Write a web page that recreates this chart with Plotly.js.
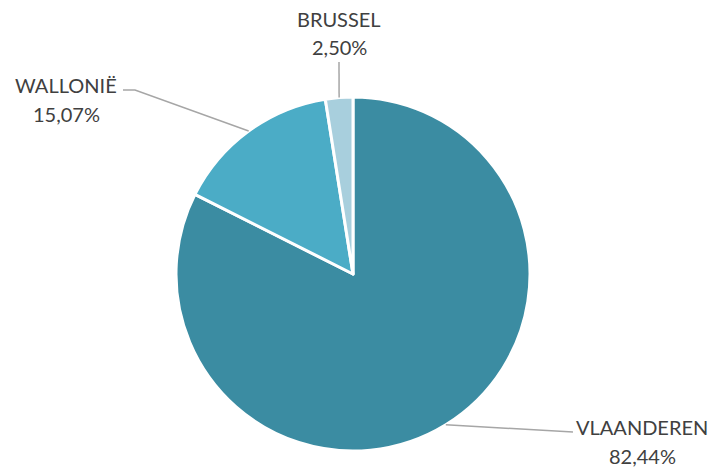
<!DOCTYPE html>
<html><head><meta charset="utf-8">
<script src="https://cdn.plot.ly/plotly-3.0.1.min.js"></script>
<style>html,body{margin:0;padding:0;background:#fff}</style>
</head><body>
<div id="chart" style="width:711px;height:468px"></div>
<script>
const regions = ["VLAANDEREN", "WALLONIË", "BRUSSEL"];
const shares = [82.44, 15.07, 2.50];
const sliceColors = ["#3B8CA2", "#4BACC6", "#A8CFDD"];

const W = 711, H = 468;
const cx = 353, cy = 274, R = 177;
// label placement (pixels): [x center, y line1, y line2], elbow/end points for leader lines
const labelPos = [
  {x: 642, y1: 427, y2: 456, end: [[573, 432]]},
  {x: 66, y1: 85, y2: 114, end: [[135, 90], [123, 90]]},
  {x: 339, y1: 19, y2: 47, end: [[339, 62]]}
];
const px = x => x / W, py = y => 1 - y / H;

const total = shares.reduce((a, b) => a + b, 0);
let cum = 0;
const annotations = [], shapes = [];
const font = {family: "Lato, 'Open Sans', sans-serif", size: 20, color: "#404040"};
shares.forEach((v, i) => {
  const mid = (cum + v / 2) / total * 2 * Math.PI;
  cum += v;
  const sx = cx + R * Math.sin(mid), sy = cy - R * Math.cos(mid);
  const pts = [[sx, sy]].concat(labelPos[i].end);
  let d = "M" + pts.map(p => px(p[0]).toFixed(5) + "," + py(p[1]).toFixed(5)).join(" L");
  shapes.push({type: "path", xref: "paper", yref: "paper", path: d, line: {color: "#A6A6A6", width: 1.5}});
  const pct = v.toFixed(2).replace(".", ",") + "%";
  annotations.push({xref: "paper", yref: "paper", x: px(labelPos[i].x), y: py(labelPos[i].y1), text: regions[i], showarrow: false, xanchor: "center", yanchor: "middle", font: font});
  annotations.push({xref: "paper", yref: "paper", x: px(labelPos[i].x), y: py(labelPos[i].y2), text: pct, showarrow: false, xanchor: "center", yanchor: "middle", font: font});
});

const trace = {
  type: "pie",
  labels: regions,
  values: shares,
  sort: false,
  direction: "clockwise",
  rotation: 0,
  textinfo: "none",
  hoverinfo: "label+percent",
  marker: {colors: sliceColors, line: {color: "#FFFFFF", width: 3}},
  domain: {x: [px(cx - R), px(cx + R)], y: [py(cy + R), py(cy - R)]}
};

Plotly.newPlot("chart", [trace], {
  width: W, height: H,
  margin: {l: 0, r: 0, t: 0, b: 0},
  showlegend: false,
  paper_bgcolor: "#FFFFFF",
  annotations: annotations,
  shapes: shapes
}, {displayModeBar: false, staticPlot: true});
</script>
</body></html>
